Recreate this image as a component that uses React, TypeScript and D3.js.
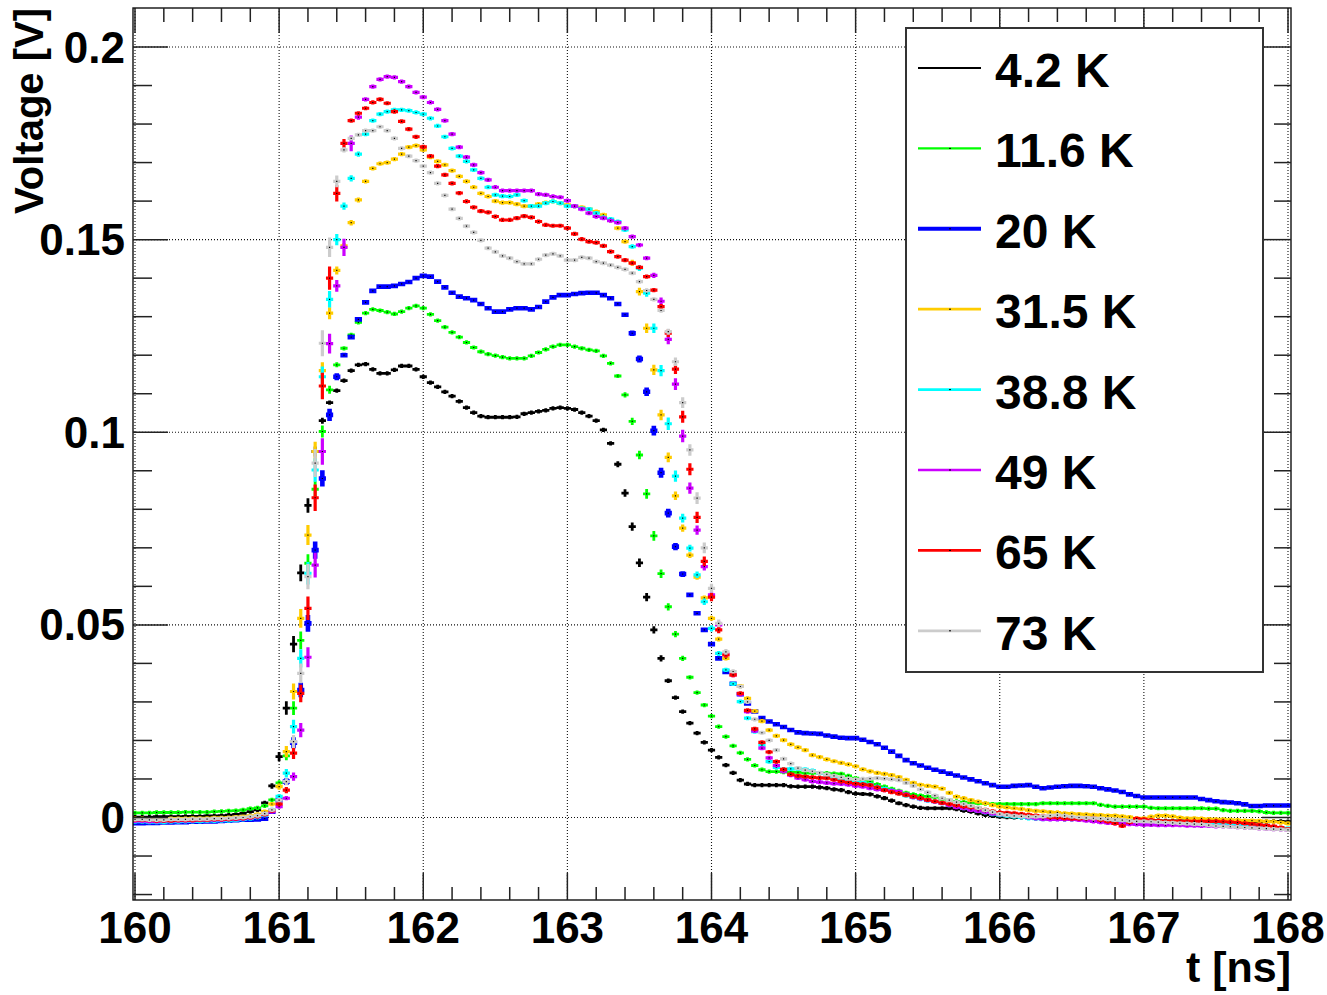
import React from "react";
import * as d3 from "d3";

// bin centres, 0.05 ns wide, 160 .. 168 ns
const times = d3.range(161).map((i) => 160 + i * 0.05);

// voltages in mV, one value per bin
const v4K2 = [
  0.1, 0.1, 0.1, 0.2, 0.2, 0.2, 0.2, 0.3, 0.3, 0.3,
  0.4, 0.4, 0.5, 0.6, 0.8, 1.1, 1.5, 2.0, 3.8, 8.2,
  15.8, 28.4, 45.0, 63.5, 81.0, 95.0, 103.0, 107.7, 110.8, 113.4,
  116.0, 117.5, 117.7, 116.3, 115.3, 115.3, 116.2, 117.2, 117.2, 116.3,
  114.4, 112.9, 111.8, 110.5, 109.4, 108.0, 106.4, 105.1, 104.2, 103.9,
  103.9, 103.9, 103.9, 104.0, 104.8, 105.1, 105.4, 105.7, 106.2, 106.4,
  106.2, 105.9, 105.1, 104.2, 103.0, 100.6, 97.1, 91.7, 84.2, 75.5,
  66.1, 57.2, 48.7, 41.3, 35.5, 31.1, 27.5, 24.5, 21.9, 19.5,
  17.5, 15.6, 13.6, 11.6, 9.7, 8.7, 8.4, 8.4, 8.4, 8.4,
  8.4, 8.1, 8.0, 8.0, 8.0, 7.8, 7.6, 7.3, 7.1, 6.6,
  6.2, 6.1, 6.0, 5.5, 5.0, 4.4, 3.7, 3.2, 2.8, 2.5,
  2.4, 2.4, 2.4, 2.4, 2.2, 1.8, 1.5, 1.1, 0.7, 0.4,
  0.2, 0.1, 0.0, 0.0, -0.1, -0.2, -0.2, -0.3, -0.3, -0.4,
  -0.4, -0.5, -0.5, -0.6, -0.6, -0.7, -0.7, -0.7, -0.8, -0.8,
  -0.8, -0.8, -0.8, -0.9, -0.9, -0.9, -0.9, -1.0, -1.0, -1.0,
  -1.0, -1.0, -1.0, -1.0, -1.1, -1.1, -1.1, -1.1, -1.0, -1.0,
  -1.1,
];

const v11K6 = [
  1.2, 1.2, 1.2, 1.3, 1.3, 1.3, 1.3, 1.4, 1.4, 1.4,
  1.4, 1.5, 1.6, 1.7, 1.8, 2.0, 2.3, 2.5, 3.0, 4.6,
  9.0, 16.0, 28.4, 46.0, 66.0, 85.2, 100.2, 111.0, 117.5, 121.8,
  125.3, 128.5, 130.9, 131.9, 131.6, 131.2, 130.7, 131.3, 132.2, 132.8,
  132.2, 130.6, 129.0, 127.3, 125.9, 124.7, 123.3, 122.0, 120.9, 120.3,
  119.9, 119.5, 119.2, 119.2, 119.2, 119.8, 120.7, 121.5, 122.2, 122.7,
  122.7, 122.2, 121.8, 121.4, 121.1, 119.8, 117.9, 114.6, 109.7, 102.8,
  94.1, 84.0, 73.1, 63.3, 54.7, 47.6, 41.3, 36.4, 32.4, 29.2,
  26.3, 23.6, 21.0, 18.6, 16.8, 15.1, 13.5, 12.4, 11.9, 11.9,
  11.8, 11.8, 11.7, 11.5, 11.5, 11.5, 11.5, 11.4, 11.3, 10.8,
  10.2, 9.7, 9.3, 8.6, 8.0, 7.4, 6.9, 6.4, 6.0, 5.7,
  5.5, 5.3, 4.8, 4.5, 4.2, 4.0, 3.8, 3.7, 3.6, 3.5,
  3.5, 3.5, 3.5, 3.5, 3.5, 3.5, 3.7, 3.7, 3.7, 3.7,
  3.7, 3.7, 3.7, 3.7, 3.3, 3.0, 2.8, 2.8, 2.8, 2.8,
  2.8, 2.5, 2.4, 2.4, 2.4, 2.4, 2.4, 2.4, 2.4, 2.3,
  2.3, 1.9, 1.7, 1.7, 1.7, 1.7, 1.6, 1.3, 1.2, 1.2,
  1.2,
];

const v20K = [
  -1.5, -1.5, -1.4, -1.4, -1.3, -1.3, -1.2, -1.2, -1.1, -1.1,
  -1.0, -1.0, -0.9, -0.8, -0.7, -0.6, -0.6, -0.5, -0.3, 1.5,
  4.5, 9.3, 19.4, 33.1, 50.4, 69.4, 88.0, 104.5, 114.4, 120.0,
  124.7, 129.3, 133.7, 136.7, 137.8, 137.8, 138.0, 138.5, 139.0, 140.0,
  140.6, 140.4, 139.1, 137.6, 136.2, 135.2, 134.8, 134.3, 133.3, 132.2,
  131.3, 131.3, 131.9, 132.2, 132.2, 131.9, 132.5, 133.9, 135.0, 135.6,
  135.6, 135.9, 136.1, 136.2, 136.2, 135.6, 134.8, 133.3, 130.5, 125.7,
  119.0, 110.5, 100.4, 89.5, 79.0, 70.3, 63.2, 57.8, 53.0, 48.7,
  45.0, 41.3, 37.8, 34.7, 32.0, 29.6, 27.5, 25.8, 24.9, 24.2,
  23.5, 22.7, 22.1, 21.9, 21.8, 21.7, 21.3, 21.0, 20.7, 20.6,
  20.6, 20.2, 19.6, 19.0, 18.1, 17.1, 16.0, 14.9, 14.1, 13.5,
  12.9, 12.4, 11.9, 11.4, 10.9, 10.4, 9.9, 9.4, 8.9, 8.4,
  8.0, 8.0, 8.2, 8.3, 8.4, 8.0, 7.6, 7.8, 8.0, 8.1,
  8.2, 8.2, 8.1, 8.0, 7.6, 7.3, 7.0, 6.6, 6.0, 5.6,
  5.2, 5.2, 5.2, 5.2, 5.2, 5.2, 5.2, 5.2, 4.8, 4.5,
  4.2, 4.0, 3.9, 3.7, 3.4, 3.0, 3.0, 3.1, 3.1, 3.1,
  3.1,
];

const v31K5 = [
  -0.3, -0.3, -0.4, -0.4, -0.4, -0.3, -0.3, -0.3, -0.2, -0.2,
  -0.2, -0.1, -0.1, 0.0, 0.1, 0.2, 0.4, 0.8, 1.5, 3.5,
  8.0, 17.1, 32.7, 51.7, 73.3, 95.0, 116.0, 130.9, 142.0, 148.4,
  154.4, 160.3, 165.1, 168.5, 169.7, 170.0, 170.9, 172.2, 174.0, 174.4,
  173.3, 171.4, 170.3, 169.4, 167.9, 166.4, 165.1, 163.6, 162.0, 161.2,
  160.0, 159.6, 159.6, 159.2, 158.7, 158.7, 159.2, 159.6, 159.9, 159.5,
  159.0, 158.7, 158.4, 157.9, 157.3, 156.4, 155.0, 153.0, 149.5, 144.0,
  136.5, 127.0, 116.2, 104.5, 93.5, 83.5, 75.1, 68.1, 62.4, 57.0,
  51.7, 46.3, 41.3, 37.0, 34.1, 30.9, 27.6, 25.0, 22.7, 21.2,
  20.1, 19.0, 18.2, 17.5, 16.2, 15.7, 15.1, 14.6, 14.2, 13.8,
  13.3, 12.5, 12.0, 11.6, 11.3, 11.0, 10.5, 9.8, 9.0, 8.5,
  8.2, 8.0, 7.5, 6.4, 5.4, 5.0, 4.5, 4.1, 3.7, 3.2,
  2.8, 2.6, 2.4, 2.2, 1.9, 1.7, 1.6, 1.4, 1.3, 1.1,
  1.0, 0.9, 0.8, 0.7, 0.6, 0.5, 0.5, 0.3, 0.1, -0.2,
  -0.2, 0.2, 0.5, 0.5, 0.3, 0.0, -0.2, -0.2, -0.3, -0.4,
  -0.5, -0.5, -0.6, -0.7, -0.8, -0.8, -0.9, -1.0, -1.1, -1.3,
  -1.5,
];

const v38K8 = [
  -1.1, -1.1, -1.2, -1.2, -1.2, -1.1, -1.1, -1.0, -1.0, -1.0,
  -0.9, -0.9, -0.8, -0.8, -0.7, -0.5, -0.3, 0.0, 0.6, 2.0,
  5.5, 11.5, 23.6, 41.3, 63.4, 90.2, 114.4, 134.5, 150.0, 158.7,
  165.9, 172.2, 177.4, 180.9, 182.6, 183.2, 183.7, 183.7, 183.5, 183.0,
  182.6, 181.5, 179.5, 176.7, 173.7, 171.7, 170.3, 168.1, 165.9, 163.6,
  161.6, 161.3, 161.2, 161.6, 160.1, 158.7, 158.7, 159.5, 159.9, 159.5,
  158.7, 158.7, 158.1, 157.9, 156.9, 155.8, 155.3, 154.7, 152.5, 148.2,
  142.6, 136.1, 127.0, 116.0, 102.2, 88.6, 77.7, 69.9, 63.0, 56.0,
  49.1, 42.6, 38.3, 34.7, 30.1, 25.8, 22.3, 18.8, 14.5, 13.0,
  12.5, 12.6, 12.6, 12.5, 12.2, 11.5, 11.0, 10.5, 10.0, 9.6,
  9.3, 9.0, 8.6, 8.0, 7.5, 7.0, 6.3, 5.7, 5.2, 4.8,
  4.4, 4.1, 3.7, 3.2, 2.8, 2.4, 2.1, 1.7, 1.3, 0.9,
  0.6, 0.4, 0.2, 0.0, -0.2, -0.3, -0.4, -0.4, -0.4, -0.5,
  -0.5, -0.5, -0.5, -0.6, -0.7, -0.8, -0.9, -1.0, -1.0, -1.1,
  -1.1, -1.1, -1.1, -1.2, -1.2, -1.2, -1.2, -1.3, -1.4, -1.5,
  -1.6, -1.7, -1.8, -1.9, -2.0, -2.2, -2.3, -2.5, -2.6, -2.7,
  -2.8,
];

const v49K = [
  -0.9, -0.9, -1.0, -1.0, -0.9, -0.9, -0.8, -0.8, -0.8, -0.7,
  -0.7, -0.6, -0.6, -0.5, -0.4, -0.3, -0.1, 0.2, 0.8, 1.5,
  2.8, 5.0, 10.6, 22.7, 41.6, 65.5, 95.0, 123.0, 138.0, 148.0,
  175.0, 181.8, 186.4, 189.7, 191.6, 192.3, 192.1, 191.0, 189.7, 188.2,
  187.0, 185.6, 183.8, 180.9, 177.4, 174.0, 171.4, 169.4, 167.4, 165.5,
  163.6, 162.7, 162.7, 162.7, 162.7, 162.7, 161.8, 161.6, 161.2, 161.0,
  160.1, 158.7, 157.9, 156.9, 156.0, 155.6, 154.9, 154.4, 153.0, 150.8,
  148.6, 145.2, 140.7, 134.0, 124.1, 112.5, 99.0, 85.5, 74.6, 65.1,
  57.8, 50.0, 42.4, 37.0, 32.0, 27.5, 22.5, 18.0, 15.5, 13.5,
  12.0, 11.0, 10.3, 9.8, 9.4, 9.2, 9.0, 8.8, 8.7, 8.5,
  8.2, 8.0, 7.6, 7.3, 7.1, 6.9, 6.7, 6.0, 5.3, 4.9,
  4.5, 4.1, 3.7, 3.2, 2.7, 2.4, 2.0, 1.7, 1.4, 1.0,
  0.8, 0.7, 0.6, 0.3, 0.0, -0.2, -0.4, -0.5, -0.5, -0.5,
  -0.5, -0.6, -0.8, -1.0, -1.2, -1.4, -1.5, -1.6, -1.7, -1.8,
  -1.9, -1.9, -2.0, -2.0, -2.0, -2.0, -2.1, -2.1, -2.2, -2.2,
  -2.3, -2.3, -2.4, -2.5, -2.6, -2.7, -2.8, -2.9, -3.0, -3.1,
  -3.2,
];

const v65K = [
  -0.6, -0.6, -0.7, -0.8, -0.8, -0.8, -0.7, -0.7, -0.7, -0.6,
  -0.6, -0.5, -0.5, -0.4, -0.3, -0.2, 0.0, 0.3, 0.8, 1.8,
  3.5, 7.1, 16.7, 32.2, 54.3, 83.0, 112.0, 140.0, 162.0, 175.0,
  180.9, 182.8, 184.1, 185.6, 186.4, 185.4, 183.2, 180.7, 178.7, 176.7,
  174.1, 171.7, 169.1, 166.8, 164.6, 162.1, 159.9, 158.4, 157.4, 157.1,
  156.0, 155.1, 155.1, 155.6, 156.1, 155.8, 154.7, 153.8, 153.6, 153.6,
  153.0, 151.5, 150.1, 149.5, 149.2, 148.4, 146.9, 145.6, 144.7, 143.9,
  142.8, 140.4, 136.9, 132.6, 125.7, 116.4, 104.0, 90.4, 77.9, 66.5,
  57.2, 48.7, 42.2, 37.0, 32.2, 27.8, 23.0, 19.5, 17.0, 14.5,
  12.5, 11.2, 10.8, 10.6, 10.4, 10.3, 10.2, 9.8, 9.4, 9.1,
  8.8, 8.6, 8.4, 7.8, 7.1, 6.6, 6.2, 5.8, 5.4, 5.0,
  4.6, 4.2, 3.8, 3.5, 3.2, 2.9, 2.7, 2.4, 2.0, 1.6,
  1.3, 1.2, 1.1, 0.9, 0.7, 0.5, 0.3, 0.1, 0.0, -0.2,
  -0.3, -0.3, -0.2, -0.2, -0.6, -1.0, -1.5, -2.2, -1.2, -0.3,
  -0.5, -0.7, -0.9, -1.0, -1.0, -1.0, -1.0, -1.0, -1.0, -1.0,
  -1.0, -1.1, -1.2, -1.3, -1.5, -1.7, -1.9, -2.1, -2.3, -2.6,
  -3.0,
];

const v73K = [
  -0.5, -0.5, -0.6, -0.6, -0.6, -0.5, -0.5, -0.5, -0.4, -0.4,
  -0.4, -0.3, -0.3, -0.2, -0.1, 0.0, 0.2, 0.5, 1.0, 2.0,
  4.5, 9.3, 19.7, 37.4, 62.5, 92.0, 123.1, 148.0, 165.1, 173.3,
  176.3, 177.2, 178.3, 178.3, 179.3, 178.3, 176.3, 173.7, 171.7, 170.5,
  169.1, 167.4, 164.6, 161.5, 157.9, 155.5, 153.5, 151.9, 149.8, 147.8,
  146.8, 145.8, 145.2, 144.3, 143.7, 143.7, 144.9, 146.0, 146.3, 145.8,
  144.7, 144.7, 145.4, 145.2, 144.3, 143.9, 143.4, 142.8, 142.3, 141.3,
  139.1, 136.8, 134.5, 131.6, 126.1, 118.3, 107.7, 95.4, 82.9, 70.0,
  59.5, 50.4, 43.0, 37.9, 34.0, 30.0, 25.5, 22.0, 20.0, 17.5,
  15.2, 14.0, 12.8, 12.3, 12.0, 11.6, 11.2, 10.8, 10.4, 10.1,
  9.9, 10.0, 10.1, 10.2, 10.1, 9.9, 9.7, 9.0, 8.2, 7.3,
  6.5, 5.7, 5.0, 4.5, 4.0, 3.5, 3.0, 2.5, 1.9, 1.4,
  0.9, 0.6, 0.4, 0.3, 0.2, 0.2, 0.3, 0.5, 0.6, 0.4,
  0.2, 0.0, -0.1, -0.2, -0.3, -0.5, -0.6, -0.7, -0.9, -1.0,
  -1.0, -1.1, -1.2, -1.3, -1.4, -1.5, -1.6, -1.7, -1.8, -2.0,
  -2.2, -2.3, -2.4, -2.5, -2.6, -2.7, -2.8, -2.9, -3.0, -3.1,
  -3.2,
];

const labels = ["4.2 K", "11.6 K", "20 K", "31.5 K", "38.8 K", "49 K", "65 K", "73 K"];
const colors = ["#000000", "#00ff00", "#0000ff", "#ffcc00", "#00ffff", "#cc00ff", "#ff0000", "#cccccc"];
const xTicks = [160, 161, 162, 163, 164, 165, 166, 167, 168];
const yTicks = [0, 0.05, 0.1, 0.15, 0.2];
const yTickLabels = ["0", "0.05", "0.1", "0.15", "0.2"];

const W = 1327;
const H = 995;
const frame = { left: 133, right: 1291, top: 8, bottom: 900 };
const FONT = "'Liberation Sans', Arial, Helvetica, sans-serif";
const markWidths = [2.8, 2.8, 4.6, 3.2, 3.2, 3.2, 3.2, 3.2];
const legendWidths = [2, 2.3, 4, 2.7, 2.7, 2.7, 2.7, 2.7];

export default function App() {
  const x = d3.scaleLinear().domain([160, 168]).range([135, 1288]);
  const y = d3.scaleLinear().domain([0, 0.2]).range([817.5, 47]);
  const series = [v4K2, v11K6, v20K, v31K5, v38K8, v49K, v65K, v73K];
  const halfBin = 0.025;

  // error bars: horizontal = bin width, vertical grows with local slope
  const barsPath = (vals: number[]) => {
    const p = d3.path();
    vals.forEach((mv, i) => {
      const t = times[i];
      const prev = vals[Math.max(i - 1, 0)];
      const next = vals[Math.min(i + 1, vals.length - 1)];
      const err = Math.max(0.55, 0.06 * Math.abs(next - prev)) / 1000;
      const v = mv / 1000;
      p.moveTo(x(t - halfBin), y(v));
      p.lineTo(x(t + halfBin), y(v));
      p.moveTo(x(t), y(v - err));
      p.lineTo(x(t), y(v + err));
    });
    return p.toString();
  };
  const dotsPath = (vals: number[]) => {
    const p = d3.path();
    vals.forEach((mv, i) => {
      const cx = x(times[i]);
      const cy = y(mv / 1000);
      p.moveTo(cx - 0.6, cy);
      p.lineTo(cx + 0.6, cy);
    });
    return p.toString();
  };

  const xMinor = d3.range(160, 168.001, 0.2).filter((t) => Math.abs(t - Math.round(t)) > 1e-6);
  const yMinor = d3.range(-2, 22).map((k) => k / 100).filter((v) => Math.round(v * 100) % 5 !== 0)
    .filter((v) => y(v) > frame.top + 1 && y(v) < frame.bottom - 1);

  const legend = { x: 906, y: 28, w: 357, h: 644 };

  return (
    <svg width={W} height={H} style={{ position: "absolute", left: 0, top: 0, background: "#fff" }}
      fontFamily={FONT} fontWeight="bold">
      <rect x={0} y={0} width={W} height={H} fill="#fff" />
      <defs>
        <clipPath id="plotclip">
          <rect x={frame.left} y={frame.top} width={frame.right - frame.left} height={frame.bottom - frame.top} />
        </clipPath>
      </defs>

      {/* grid */}
      <g stroke="#111" strokeWidth={1.1} strokeDasharray="1 2" fill="none">
        {xTicks.map((t) => (
          <line key={"gx" + t} x1={x(t)} x2={x(t)} y1={frame.top} y2={frame.bottom} />
        ))}
        {yTicks.map((v) => (
          <line key={"gy" + v} x1={frame.left} x2={frame.right} y1={y(v)} y2={y(v)} />
        ))}
      </g>

      {/* data */}
      <g clipPath="url(#plotclip)">
        {series.map((vals, si) => (
          <g key={labels[si]}>
            <path d={barsPath(vals)} stroke={colors[si]} strokeWidth={markWidths[si]} fill="none" />
            {si > 0 && <path d={dotsPath(vals)} stroke="#000" strokeWidth={1.2} fill="none" />}
          </g>
        ))}
      </g>

      {/* frame */}
      <rect x={frame.left} y={frame.top} width={frame.right - frame.left} height={frame.bottom - frame.top}
        fill="none" stroke="#111" strokeWidth={1.4} />

      {/* ticks */}
      <g stroke="#222" strokeWidth={1.5}>
        {xTicks.map((t) => (
          <g key={"xt" + t}>
            <line x1={x(t)} x2={x(t)} y1={frame.bottom} y2={frame.bottom - 27} />
            <line x1={x(t)} x2={x(t)} y1={frame.top} y2={frame.top + 25} />
          </g>
        ))}
        {xMinor.map((t) => (
          <g key={"xm" + t.toFixed(2)}>
            <line x1={x(t)} x2={x(t)} y1={frame.bottom} y2={frame.bottom - 13} />
            <line x1={x(t)} x2={x(t)} y1={frame.top} y2={frame.top + 14} />
          </g>
        ))}
        {yTicks.map((v) => (
          <g key={"yt" + v}>
            <line x1={frame.left} x2={frame.left + 35} y1={y(v)} y2={y(v)} />
            <line x1={frame.right} x2={frame.right - 29} y1={y(v)} y2={y(v)} />
          </g>
        ))}
        {yMinor.map((v) => (
          <g key={"ym" + v.toFixed(2)}>
            <line x1={frame.left} x2={frame.left + 19} y1={y(v)} y2={y(v)} />
            <line x1={frame.right} x2={frame.right - 17} y1={y(v)} y2={y(v)} />
          </g>
        ))}
      </g>

      {/* tick labels */}
      <g fontSize={44} fill="#000">
        {xTicks.map((t) => (
          <text key={"xl" + t} x={x(t)} y={943} textAnchor="middle">{t}</text>
        ))}
        {yTicks.map((v, i) => (
          <text key={"yl" + v} x={125} y={y(v) + 15.5} textAnchor="end">{yTickLabels[i]}</text>
        ))}
      </g>

      {/* axis titles */}
      <text x={1291} y={982} textAnchor="end" fontSize={43}>t [ns]</text>
      <text transform="translate(43,8) rotate(-90)" textAnchor="end" fontSize={40}>Voltage [V]</text>

      {/* legend */}
      <rect x={legend.x} y={legend.y} width={legend.w} height={legend.h} fill="#fff" stroke="#333" strokeWidth={2} />
      {labels.map((lab, i) => {
        const ly = 68 + i * 80.4;
        return (
          <g key={"lg" + lab}>
            <line x1={918} x2={981} y1={ly} y2={ly} stroke={colors[i]} strokeWidth={legendWidths[i]} />
            {i > 0 && <line x1={949} x2={951} y1={ly} y2={ly} stroke="#000" strokeWidth={1} />}
            <text x={995} y={ly + 19} fontSize={48}>{lab}</text>
          </g>
        );
      })}
    </svg>
  );
}
